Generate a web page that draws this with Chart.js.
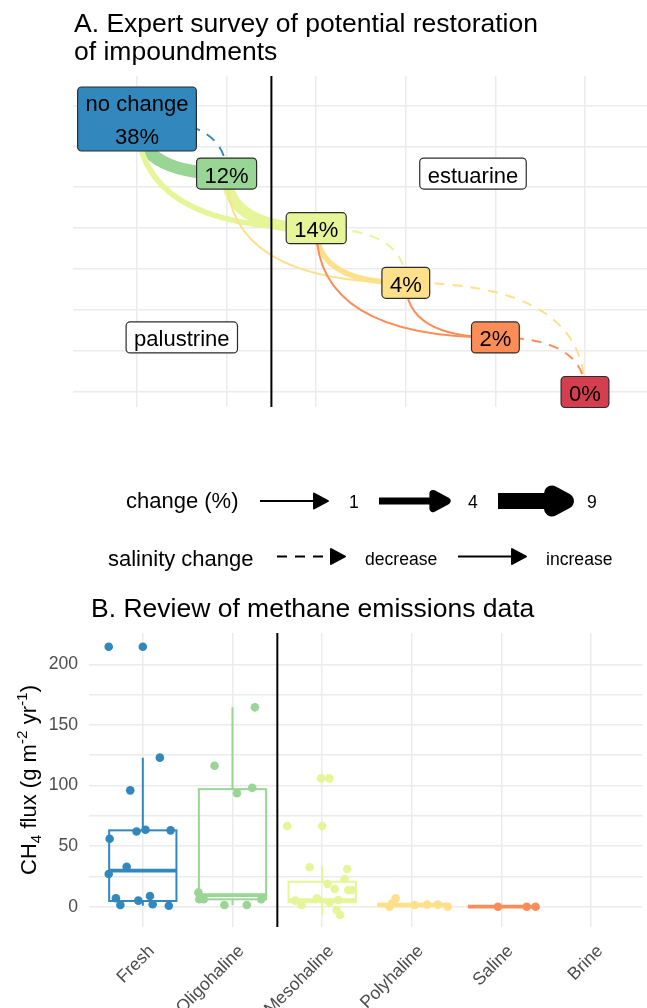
<!DOCTYPE html>
<html>
<head>
<meta charset="utf-8">
<title>Impoundment restoration and methane</title>
<script src="https://cdn.jsdelivr.net/npm/chart.js@4.4.1/dist/chart.umd.min.js"></script>
<style>
  html, body { margin: 0; padding: 0; background: #ffffff; }
  #wrap { position: relative; width: 647px; height: 1008px; overflow: hidden; }
  #flow { position: absolute; left: 0; top: 0; }
  #flux { position: absolute; left: 0; top: 585px; }
</style>
</head>
<body>
<div id="wrap">
  <canvas id="flow" width="647" height="585" style="width:647px;height:585px"></canvas>
  <canvas id="flux" width="647" height="423" style="width:647px;height:423px"></canvas>
</div>
<script>
// ---------- Panel A: expert survey, shifts between salinity states ----------
const stateLabels = ['no change\n38%', '12%', '14%', '4%', '2%', '0%'];
const stateCol = [1, 2, 3, 4, 5, 6];
const stateRow = [5, 4, 3, 2, 1, 0];
const stateColors = ['#3288BD', '#99D594', '#E6F598', '#FEE08B', '#FC8D59', '#D53E4F'];

// flows between states: index of source, index of target, share of experts (%), salinity direction
const flowFrom = [0, 0, 1, 1, 2, 2, 3, 3, 5, 5, 1];
const flowTo   = [1, 2, 2, 3, 3, 4, 4, 2, 3, 4, 0];
const flowPct  = [7, 3, 6, 1, 3, 1, 1, 1, 1, 1, 1];
const flowDir  = ['increase', 'increase', 'increase', 'increase', 'increase', 'increase', 'increase',
                  'decrease', 'decrease', 'decrease', 'decrease'];

const zoneNames = ['palustrine', 'estuarine'];
const zoneX = [1.5, 4.75];
const zoneY = [1, 4];
const zoneDivider = 2.5;

const flowGridX = [1, 2, 3, 4, 5, 6];
const flowGridY = [0, 0.75, 1.5, 2.25, 3, 3.75, 4.5, 5.25];

const changeKeys = [1, 4, 9];
const salinityKeys = ['decrease', 'increase'];

// ---------- Panel B: methane flux by salinity class ----------
const salinityClasses = ['Fresh', 'Oligohaline', 'Mesohaline', 'Polyhaline', 'Saline', 'Brine'];
const classColors = ['#3288BD', '#99D594', '#E6F598', '#FEE08B', '#FC8D59', '#D53E4F'];
const fluxTicks = [0, 50, 100, 150, 200];
const fluxGrid = [0, 25, 50, 75, 100, 125, 150, 175, 200];

const freshFlux   = [214.5, 214.5, 123, 96, 62, 63.5, 63, 56, 33, 27, 7, 1.4, 5, 8.8, 2, 0.8];
const freshJitter = [-0.38, 0, 0.19, -0.14, -0.07, 0.03, 0.31, -0.37, -0.18, -0.38, -0.3, -0.25, -0.05, 0.08, 0.11, 0.29];
const oligoFlux   = [116.3, 164.5, 93.6, 98.2, 11.6, 6.1, 6.1, 1.4, 1.4, 6.1];
const oligoJitter = [-0.2, 0.25, 0.05, 0.22, -0.38, -0.37, -0.32, -0.09, 0.16, 0.32];
const mesoFlux    = [105.9, 105.9, 66.6, 66.6, 32.5, 31.1, 22.8, 18.7, 14.6, 13.8, 13.8, 1.4, 5, 6.9, 3.6, 5.5, -2.7, -6.8];
const mesoJitter  = [-0.01, 0.08, -0.39, 0, -0.14, 0.28, 0.25, 0.06, 0.14, 0.29, 0.33, -0.23, -0.3, -0.06, 0.08, 0.18, 0.16, 0.2];
const polyFlux    = [6.9, 0, 2.8, 1.4, 1.7, 1.7, 0];
const polyJitter  = [-0.18, -0.25, -0.22, 0.03, 0.17, 0.29, 0.4];
const salineFlux  = [0, 0, 0];
const salineJitter = [-0.04, 0.28, 0.38];
const brineFlux   = [];
const brineJitter = [];

// box summaries per class: lower whisker, first quartile, median, third quartile, upper whisker
const boxLow  = [0.8, 1.4, -6.8, 0, 0, null];
const boxQ1   = [4.7, 6.1, 3.6, 0.3, 0, null];
const boxMed  = [29.7, 9.6, 5.5, 1.4, 0, null];
const boxQ3   = [63, 97, 20.6, 2.5, 0, null];
const boxHigh = [123, 164.5, 33, 2.8, 0, null];

// ---------- shared drawing helpers ----------
const FONT = "'Liberation Sans', Arial, Helvetica, sans-serif";
Chart.defaults.font.family = FONT;
Chart.defaults.color = '#000000';
Chart.defaults.animation = false;

function changeWidth(p) { return 0.2 + 1.75 * p; }

function arrowHead(ctx, tx, ty, ux, uy, w, color) {
  const len = 14, half = 7.5;
  const bx = tx - ux * len, by = ty - uy * len;
  const px = -uy, py = ux;
  ctx.save();
  ctx.setLineDash([]);
  ctx.fillStyle = color;
  ctx.strokeStyle = color;
  ctx.lineWidth = w;
  ctx.lineJoin = 'round';
  ctx.beginPath();
  ctx.moveTo(tx, ty);
  ctx.lineTo(bx + px * half, by + py * half);
  ctx.lineTo(bx - px * half, by - py * half);
  ctx.closePath();
  ctx.fill();
  ctx.stroke();
  ctx.restore();
}

function roundedBox(ctx, x, y, w, h, r) {
  ctx.beginPath();
  ctx.moveTo(x + r, y);
  ctx.lineTo(x + w - r, y);
  ctx.arcTo(x + w, y, x + w, y + r, r);
  ctx.lineTo(x + w, y + h - r);
  ctx.arcTo(x + w, y + h, x + w - r, y + h, r);
  ctx.lineTo(x + r, y + h);
  ctx.arcTo(x, y + h, x, y + h - r, r);
  ctx.lineTo(x, y + r);
  ctx.arcTo(x, y, x + r, y, r);
  ctx.closePath();
}

function tag(ctx, cx, cy, text, fill) {
  const lines = text.split('\n');
  ctx.save();
  ctx.font = '22px ' + FONT;
  const tw = Math.max.apply(null, lines.map(s => ctx.measureText(s).width));
  const w = tw + 16, h = 31 + (lines.length - 1) * 33;
  const left = cx - w / 2, top = cy - h / 2;
  roundedBox(ctx, left, top, w, h, 4);
  ctx.fillStyle = fill;
  ctx.fill();
  ctx.lineWidth = 1.2;
  ctx.strokeStyle = '#2b2b2b';
  ctx.stroke();
  ctx.fillStyle = '#000000';
  ctx.textAlign = 'center';
  ctx.textBaseline = 'alphabetic';
  lines.forEach((s, i) => ctx.fillText(s, cx, top + 24.5 + i * 33));
  ctx.restore();
}

function legendArrow(ctx, x0, xt, y, w, dashed) {
  ctx.save();
  ctx.strokeStyle = '#000000';
  ctx.lineWidth = w;
  ctx.lineCap = 'butt';
  ctx.setLineDash(dashed ? [10, 8] : []);
  ctx.beginPath();
  ctx.moveTo(x0, y);
  ctx.lineTo(xt - 13, y);
  ctx.stroke();
  ctx.restore();
  arrowHead(ctx, xt, y, 1, 0, w, '#000000');
}

// ---------- Panel A chart ----------
const flowPlugin = {
  id: 'stateFlows',
  beforeDatasetsDraw(chart) {
    const { ctx, chartArea: a, scales: { x, y } } = chart;
    for (let k = 0; k < flowFrom.length; k++) {
      const s = flowFrom[k], t = flowTo[k];
      const x0 = x.getPixelForValue(stateCol[s]), y0 = y.getPixelForValue(stateRow[s]);
      const x1 = x.getPixelForValue(stateCol[t]), y1 = y.getPixelForValue(stateRow[t]);
      const cx = x0, cy = y1;
      const w = changeWidth(flowPct[k]);
      const col = stateColors[t];
      ctx.save();
      ctx.strokeStyle = col;
      ctx.lineWidth = w;
      ctx.lineCap = 'butt';
      ctx.setLineDash(flowDir[k] === 'decrease' ? [10, 8] : []);
      ctx.beginPath();
      ctx.moveTo(x0, y0);
      ctx.quadraticCurveTo(cx, cy, x1, y1);
      ctx.stroke();
      ctx.restore();
      const dx = x1 - cx, dy = y1 - cy, L = Math.hypot(dx, dy) || 1;
      arrowHead(ctx, x1, y1, dx / L, dy / L, w, col);
    }
    // boundary between palustrine and estuarine states
    const bx = x.getPixelForValue(zoneDivider);
    ctx.save();
    ctx.strokeStyle = '#000000';
    ctx.lineWidth = 2;
    ctx.beginPath();
    ctx.moveTo(bx, a.top);
    ctx.lineTo(bx, a.bottom);
    ctx.stroke();
    ctx.restore();
  },
  afterDatasetsDraw(chart) {
    const { ctx } = chart;
    const zones = chart.getDatasetMeta(1).data;
    zones.forEach((pt, i) => tag(ctx, pt.x, pt.y, zoneNames[i], '#ffffff'));
    const nodes = chart.getDatasetMeta(0).data;
    nodes.forEach((pt, i) => tag(ctx, pt.x, pt.y, stateLabels[i], stateColors[i]));
  },
  afterDraw(chart) {
    const { ctx, chartArea: a } = chart;
    ctx.save();
    ctx.fillStyle = '#000000';
    ctx.textAlign = 'left';
    ctx.textBaseline = 'alphabetic';
    ctx.font = '26.5px ' + FONT;
    ctx.fillText('A. Expert survey of potential restoration', a.left + 1, 32);
    ctx.fillText('of impoundments', a.left + 1, 60);

    // size and line-type keys
    ctx.font = '22px ' + FONT;
    ctx.fillText('change (%)', 126, 508);
    changeKeys.forEach((p, i) => {
      const x0 = 260 + i * 119;
      legendArrow(ctx, x0, x0 + 68, 501, changeWidth(p), false);
      ctx.fillStyle = '#000000';
      ctx.font = '17.6px ' + FONT;
      ctx.textAlign = 'left';
      ctx.fillText(String(p), x0 + 89, 507.5);
    });
    ctx.font = '22px ' + FONT;
    ctx.fillText('salinity change', 108, 565.5);
    salinityKeys.forEach((d, i) => {
      const x0 = 277 + i * 181;
      legendArrow(ctx, x0, x0 + 68, 556.5, changeWidth(1), d === 'decrease');
      ctx.fillStyle = '#000000';
      ctx.font = '17.6px ' + FONT;
      ctx.textAlign = 'left';
      ctx.fillText(d, x0 + 88, 564.5);
    });
    ctx.restore();
  }
};

new Chart(document.getElementById('flow'), {
  type: 'scatter',
  data: {
    datasets: [
      { label: 'states', data: stateCol.map((c, i) => ({ x: c, y: stateRow[i] })), pointRadius: 0 },
      { label: 'zones', data: zoneX.map((c, i) => ({ x: c, y: zoneY[i] })), pointRadius: 0 }
    ]
  },
  options: {
    responsive: false,
    animation: false,
    events: [],
    layout: { padding: { left: 73, right: 0, top: 76, bottom: 178 } },
    plugins: { legend: { display: false }, tooltip: { enabled: false }, title: { display: false } },
    scales: {
      x: {
        type: 'linear', min: 0.2857, max: 6.692, bounds: 'data',
        grid: { color: '#EBEBEB', lineWidth: 1.5, drawTicks: false },
        border: { display: false },
        ticks: { display: false },
        afterBuildTicks: s => { s.ticks = flowGridX.map(v => ({ value: v })); }
      },
      y: {
        type: 'linear', min: -0.2747, max: 5.7875, bounds: 'data',
        grid: { color: '#EBEBEB', lineWidth: 1.5, drawTicks: false },
        border: { display: false },
        ticks: { display: false },
        afterBuildTicks: s => { s.ticks = flowGridY.map(v => ({ value: v })); }
      }
    }
  },
  plugins: [flowPlugin]
});

// ---------- Panel B chart ----------
const classFlux = [freshFlux, oligoFlux, mesoFlux, polyFlux, salineFlux, brineFlux];
const classJitter = [freshJitter, oligoJitter, mesoJitter, polyJitter, salineJitter, brineJitter];

const boxPlugin = {
  id: 'fluxBoxes',
  beforeDatasetsDraw(chart) {
    const { ctx, chartArea: a, scales: { x, y } } = chart;
    ctx.save();
    const bx = x.getPixelForValue(zoneDivider);
    ctx.strokeStyle = '#000000';
    ctx.lineWidth = 2;
    ctx.beginPath();
    ctx.moveTo(bx, a.top);
    ctx.lineTo(bx, a.bottom);
    ctx.stroke();
    salinityClasses.forEach((name, i) => {
      if (boxQ1[i] === null) return;
      const cx = x.getPixelForValue(i + 1);
      const hw = x.getPixelForValue(i + 1.375) - cx;
      const yLo = y.getPixelForValue(boxLow[i]);
      const yQ1 = y.getPixelForValue(boxQ1[i]);
      const yMed = y.getPixelForValue(boxMed[i]);
      const yQ3 = y.getPixelForValue(boxQ3[i]);
      const yHi = y.getPixelForValue(boxHigh[i]);
      ctx.strokeStyle = classColors[i];
      ctx.lineWidth = 2;
      ctx.beginPath();
      ctx.moveTo(cx, yQ3); ctx.lineTo(cx, yHi);
      ctx.moveTo(cx, yQ1); ctx.lineTo(cx, yLo);
      ctx.stroke();
      ctx.strokeRect(cx - hw, yQ3, hw * 2, yQ1 - yQ3);
      ctx.lineWidth = 3.8;
      ctx.beginPath();
      ctx.moveTo(cx - hw, yMed); ctx.lineTo(cx + hw, yMed);
      ctx.stroke();
    });
    ctx.restore();
  },
  afterDraw(chart) {
    const { ctx, chartArea: a } = chart;
    ctx.save();
    ctx.fillStyle = '#000000';
    ctx.textAlign = 'left';
    ctx.textBaseline = 'alphabetic';
    ctx.font = '26.5px ' + FONT;
    ctx.fillText('B. Review of methane emissions data', a.left + 2, 32);

    // axis title with sub- and superscripts, read bottom to top
    const runs = [
      { t: 'CH', s: 22, d: 0 },
      { t: '4', s: 15.4, d: 5 },
      { t: ' flux (g m', s: 22, d: 0 },
      { t: '-2', s: 15.4, d: -9 },
      { t: ' yr', s: 22, d: 0 },
      { t: '-1', s: 15.4, d: -9 },
      { t: ')', s: 22, d: 0 }
    ];
    let total = 0;
    runs.forEach(r => { ctx.font = r.s + 'px ' + FONT; r.w = ctx.measureText(r.t).width; total += r.w; });
    ctx.translate(36, (a.top + a.bottom) / 2);
    ctx.rotate(-Math.PI / 2);
    let cx = -total / 2;
    runs.forEach(r => {
      ctx.font = r.s + 'px ' + FONT;
      ctx.fillText(r.t, cx, r.d);
      cx += r.w;
    });
    ctx.restore();
  }
};

new Chart(document.getElementById('flux'), {
  type: 'scatter',
  data: {
    datasets: salinityClasses.map((name, i) => ({
      label: name,
      data: classFlux[i].map((v, j) => ({ x: i + 1 + classJitter[i][j], y: v })),
      pointRadius: 4.3,
      pointBorderWidth: 0,
      backgroundColor: classColors[i],
      borderColor: classColors[i]
    }))
  },
  options: {
    responsive: false,
    animation: false,
    events: [],
    layout: { padding: { left: 0, right: 0, top: 48, bottom: 0 } },
    plugins: { legend: { display: false }, tooltip: { enabled: false }, title: { display: false } },
    scales: {
      x: {
        type: 'linear', min: 0.4, max: 6.574, bounds: 'data',
        grid: { color: '#EBEBEB', lineWidth: 1.5, drawTicks: false },
        border: { display: false },
        afterBuildTicks: s => { s.ticks = salinityClasses.map((n, i) => ({ value: i + 1 })); },
        ticks: {
          autoSkip: false, minRotation: 45, maxRotation: 45, padding: 14, labelOffset: 9,
          color: '#4D4D4D', font: { size: 17.6 },
          callback: v => salinityClasses[v - 1]
        },
        afterFit: s => { s.height = 81; }
      },
      y: {
        type: 'linear', min: -16.75, max: 225.83, bounds: 'data',
        grid: { color: '#EBEBEB', lineWidth: 1.5, drawTicks: false },
        border: { display: false },
        afterBuildTicks: s => { s.ticks = fluxGrid.map(v => ({ value: v })); },
        ticks: {
          padding: 11, color: '#4D4D4D', font: { size: 17.6 },
          callback: v => (fluxTicks.indexOf(v) >= 0 ? String(v) : '')
        },
        afterFit: s => { s.width = 89; }
      }
    }
  },
  plugins: [boxPlugin]
});
</script>
</body>
</html>
